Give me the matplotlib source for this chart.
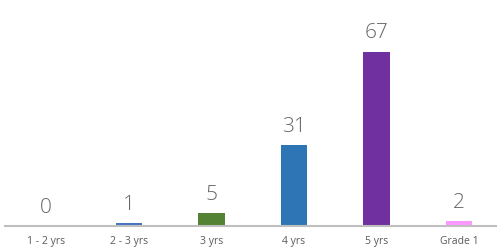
import matplotlib
matplotlib.use("Agg")
import matplotlib.pyplot as plt

categories = ["1 - 2 yrs", "2 - 3 yrs", "3 yrs", "4 yrs", "5 yrs", "Grade 1"]
values = [0, 1, 5, 31, 67, 2]
colors = ["#4472C4", "#4472C4", "#548235", "#2E75B6", "#7030A0", "#FF99FF"]

plt.rcParams['font.family'] = ['Open Sans', 'DejaVu Sans']
fig = plt.figure(figsize=(4.97, 2.49), dpi=100)
ax = fig.add_axes([0.01, 0.092, 0.99, 0.836])
x = list(range(len(categories)))
bars = ax.bar(x, values, width=0.32, color=colors)
ax.set_xlim(-0.5, 5.46)
ax.set_ylim(0, 80)
for xi, v in zip(x, values):
    ax.annotate(str(v), (xi, v), xytext=(0, 6), textcoords="offset points",
                ha="center", va="bottom", fontsize=15, fontweight="light",
                color="#666666")
ax.set_xticks(x)
ax.set_xticklabels(categories, fontsize=7.5, color="#595959")
ax.tick_params(axis="x", length=0, pad=7)
ax.set_yticks([])
for s in ["top", "right", "left"]:
    ax.spines[s].set_visible(False)
ax.spines["bottom"].set_color("#BFBFBF")
ax.spines["bottom"].set_linewidth(1.5)
fig.savefig("out.png", dpi=100)
